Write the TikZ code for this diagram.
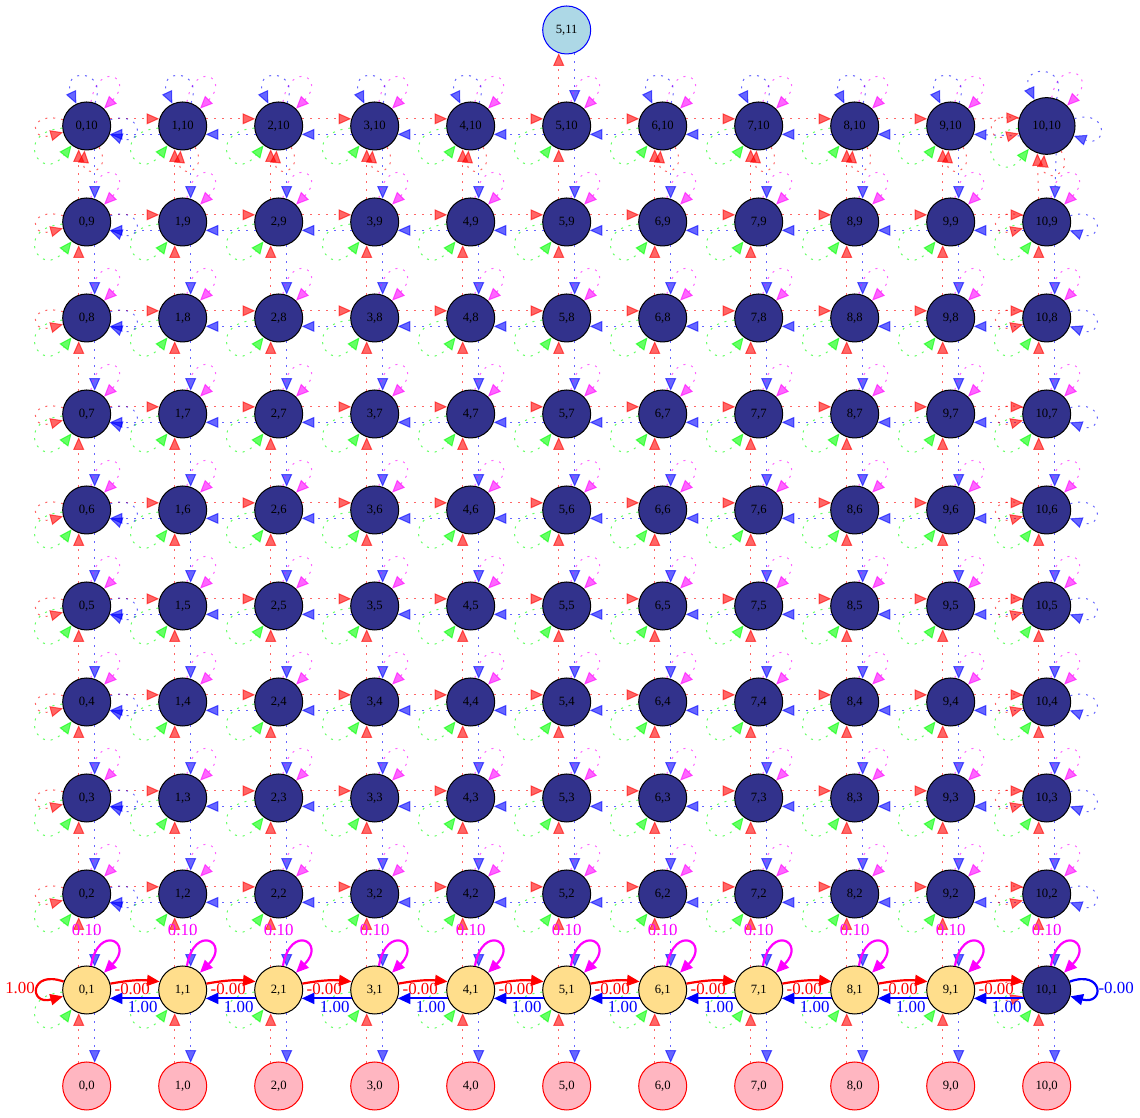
\documentclass[tikz,border=0pt]{standalone}
\usepackage{fontspec}
\setmainfont{Liberation Serif}
\usetikzlibrary{positioning,arrows.meta}
\definecolor{GridNavy}{RGB}{50,50,140}
\definecolor{GridGold}{RGB}{255,222,140}
\definecolor{GridPink}{RGB}{255,182,193}
\definecolor{GridSky}{RGB}{173,216,230}
\definecolor{ActRed}{RGB}{255,0,0}
\definecolor{ActBlue}{RGB}{0,0,255}
\definecolor{ActGreen}{RGB}{0,255,0}
\definecolor{ActMag}{RGB}{255,0,255}

\begin{document}
\begin{tikzpicture}[
state/.style={circle,draw=black,fill=GridNavy,minimum size=1cm,inner sep=0pt,line width=0.6pt,font=\fontsize{7.5}{8}\selectfont},
goal/.style={state,fill=GridGold},
term/.style={state,draw=ActRed,fill=GridPink},
exit/.style={state,draw=ActBlue,fill=GridSky},
faint/.style={dash pattern=on 1.2pt off 3.5pt,line width=0.6pt,opacity=0.6,-{Triangle[length=7.5pt,width=6.5pt]}},
bold/.style={line width=1.3pt,-{Triangle[length=7.5pt,width=6.5pt]}},
lap/.style={looseness=1,min distance=#1},
qval/.style={font=\fontsize{10}{11}\selectfont,inner sep=1pt}
]
\useasboundingbox (-1.806,-0.646) rectangle (21.944,22.625);

% states
\foreach \i in {0,...,10}{
  \node[term] (n-\i-0) at (2*\i,0) {\i,0};
  \foreach \j in {2,...,9}
    \node[state] (n-\i-\j) at (2*\i,2*\j) {\i,\j};
}
\foreach \i in {0,...,9}{
  \node[goal] (n-\i-1) at (2*\i,2) {\i,1};
  \node[state] (n-\i-10) at (2*\i,20) {\i,10};
}
\node[state] (n-10-1) at (20,2) {10,1};
\node[state,minimum size=1.18cm] (n-10-10) at (20,20) {10,10};
\node[exit] (n-5-11) at (10,22) {5,11};

% dotted moves
\foreach \j in {2,...,10}
  \foreach \i in {0,...,9}{
    \pgfmathtruncatemacro\inext{\i+1}
    \draw[faint,ActRed] (n-\i-\j.17) -- (n-\inext-\j.163);
    \draw[faint,ActBlue] (n-\inext-\j.200) -- (n-\i-\j.340);
  }
\foreach \i in {0,...,10}
  \foreach \j in {0,...,9}{
    \pgfmathtruncatemacro\jnext{\j+1}
    \draw[faint,ActRed] (n-\i-\j.109) -- (n-\i-\jnext.251);
    \draw[faint,ActBlue] (n-\i-\jnext.289) -- (n-\i-\j.71);
  }
\draw[faint,ActRed] (n-5-10.109) -- (n-5-11.251);
\draw[faint,ActBlue] (n-5-11.289) -- (n-5-10.71);

% dotted loops
\foreach \i in {0,...,10}{
  \foreach \j in {1,...,10}
    \draw[faint,ActGreen] (n-\i-\j) to[out=185,in=232,lap=1.05cm] (n-\i-\j);
  \foreach \j in {2,...,10}
    \draw[faint,ActMag] (n-\i-\j) to[out=80,in=45,lap=0.9cm] (n-\i-\j);
}
\foreach \j in {2,...,10}{
  \draw[faint,ActRed] (n-0-\j) to[out=165,in=195,lap=0.75cm] (n-0-\j);
  \draw[faint,ActBlue] (n-0-\j) to[out=15,in=-20,lap=0.75cm] (n-0-\j);
  \draw[faint,ActBlue] (n-10-\j) to[out=15,in=-20,lap=0.75cm] (n-10-\j);
}
\foreach \j in {1,...,10}
  \draw[faint,ActRed] (n-10-\j) to[out=165,in=195,lap=0.75cm] (n-10-\j);
\foreach \i in {0,1,2,3,4,6,7,8,9,10}{
  \draw[faint,ActRed] (n-\i-10) to[out=-60,in=-95,lap=0.6cm] (n-\i-10);
  \draw[faint,ActBlue] (n-\i-10) to[out=70,in=115,lap=0.8cm] (n-\i-10);
}

% bottom row
\foreach \i in {0,...,9}{
  \pgfmathtruncatemacro\inext{\i+1}
  \draw[bold,ActRed] (n-\i-1.15) to[bend left=8] node[qval,pos=0.44,below] (r-\i) {-0.00} (n-\inext-1.160);
  \draw[bold,ActBlue] (n-\inext-1.200) -- node[qval,pos=0.34,below] (l-\i) {1.00} (n-\i-1.340);
}
\foreach \i in {0,...,10}{
  \draw[bold,ActMag] (n-\i-1) to[out=80,in=45,lap=0.9cm] (n-\i-1);
  \node[qval,text=ActMag,above=5.8mm of n-\i-1] (s-\i) {0.10};
}
\draw[bold,ActRed] (n-0-1) to[out=160,in=195,lap=0.75cm] node[qval,left] (w-0) {1.00} (n-0-1);
\draw[bold,ActBlue] (n-10-1) to[out=20,in=-15,lap=0.75cm] node[qval,right] (e-10) {-0.00} (n-10-1);
\end{tikzpicture}
\end{document}
